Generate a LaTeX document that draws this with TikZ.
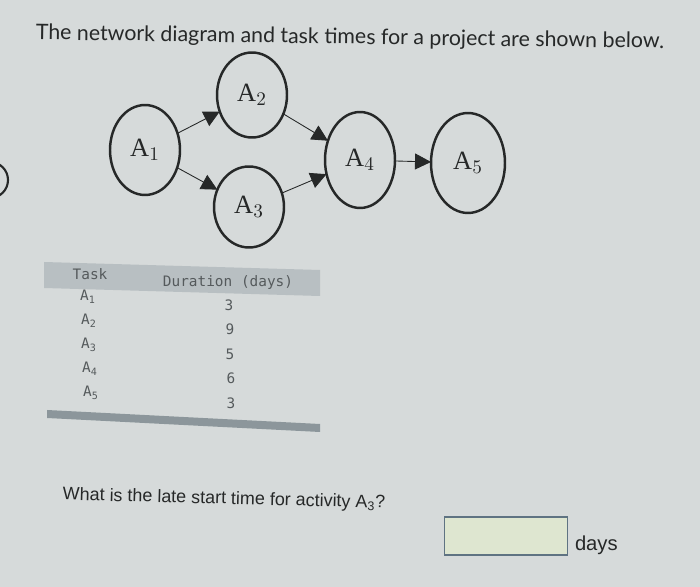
\documentclass[tikz,border=0pt]{standalone}
\usepackage{fontspec}
\setmainfont{Liberation Serif}
\newfontfamily\titlefont{Lato}
\newfontfamily\askfont{Liberation Sans}
\newfontfamily\tabfont{DejaVu Sans Mono}
\usetikzlibrary{shapes.geometric,arrows.meta}
\definecolor{paper}{RGB}{214,218,218}
\definecolor{ink}{RGB}{38,40,40}
\definecolor{tabink}{RGB}{85,90,92}
\definecolor{headband}{RGB}{184,191,194}
\definecolor{footbar}{RGB}{140,150,155}
\definecolor{boxfill}{RGB}{222,230,208}
\definecolor{boxline}{RGB}{95,115,130}

\begin{document}
\begin{tikzpicture}[x=0.02cm, y=-0.02cm, outer sep = 0pt]

\tikzstyle{task}=[draw=ink, ellipse, line width=1.4pt, minimum width=1.4cm, minimum height=1.8cm, inner sep=0pt, text=ink, font=\fontsize{15}{15}\selectfont]
\tikzstyle{link}=[draw=ink, line width=0.5pt, -{Triangle[length=0.32cm, width=0.32cm]}]
\tikzstyle{cell}=[text=tabink, font=\tabfont\fontsize{8.2}{9}\selectfont, inner sep=0pt]

\fill[paper] (0,0) rectangle (700,587);
\useasboundingbox (0,0) rectangle (700,587);
\draw[ink, line width=1.2pt] (-10,180) circle (18);

\node[text=ink, font=\titlefont\fontsize{12.15}{14}\selectfont, rotate=-0.8] (title) at (350,38) {The network diagram and task times for a project are shown below.};

\node[task] (a1) at (145,150) {A$_1$}; \node[task, minimum height=1.7cm] (a2) at (252,95) {A$_2$};
\node[task, minimum height=1.62cm] (a3) at (249,207) {A$_3$}; \node[task, minimum height=1.92cm] (a4) at (360,160) {A$_4$};
\node[task, minimum width=1.48cm, minimum height=2cm] (a5) at (468,163) {A$_5$};

\draw[link] (a1) -- (a2); \draw[link] (a1) -- (a3); \draw[link] (a2) -- (a4);
\draw[link] (a3) -- (a4); \draw[link] (a4) -- (a5);

\fill[headband] (44,262) -- (320,270) -- (320,296) -- (44,288) -- cycle;
\node[cell] (hd1) at (90,274) {Task}; \node[cell] (hd2) at (228,283) {Duration (days)};
\node[cell] (t1) at (88,297) {A\textsubscript{1}}; \node[cell] (d1) at (229,305) {3};
\node[cell] (t2) at (89,321) {A\textsubscript{2}}; \node[cell] (d2) at (230,329) {9};
\node[cell] (t3) at (89,345) {A\textsubscript{3}}; \node[cell] (d3) at (230,354) {5};
\node[cell] (t4) at (90,369) {A\textsubscript{4}}; \node[cell] (d4) at (231,378) {6};
\node[cell] (t5) at (91,393) {A\textsubscript{5}}; \node[cell] (d5) at (231,403) {3};
\fill[footbar] (47,410) -- (320,424) -- (320,432) -- (47,418) -- cycle;

\node[text=ink, font=\askfont\fontsize{10.2}{12}\selectfont, anchor=west, rotate=-1.5] (ask) at (57,495) {What is the late start time for activity A\textsubscript{3}?};
\node[draw=boxline, fill=boxfill, line width=0.6pt, minimum width=2.46cm, minimum height=0.76cm] (answer) at (506,536) {};
\node[text=ink, font=\askfont\fontsize{11.5}{13}\selectfont, anchor=west, inner sep=0pt] (unit) at (575,545) {days};

\end{tikzpicture}
\end{document}
